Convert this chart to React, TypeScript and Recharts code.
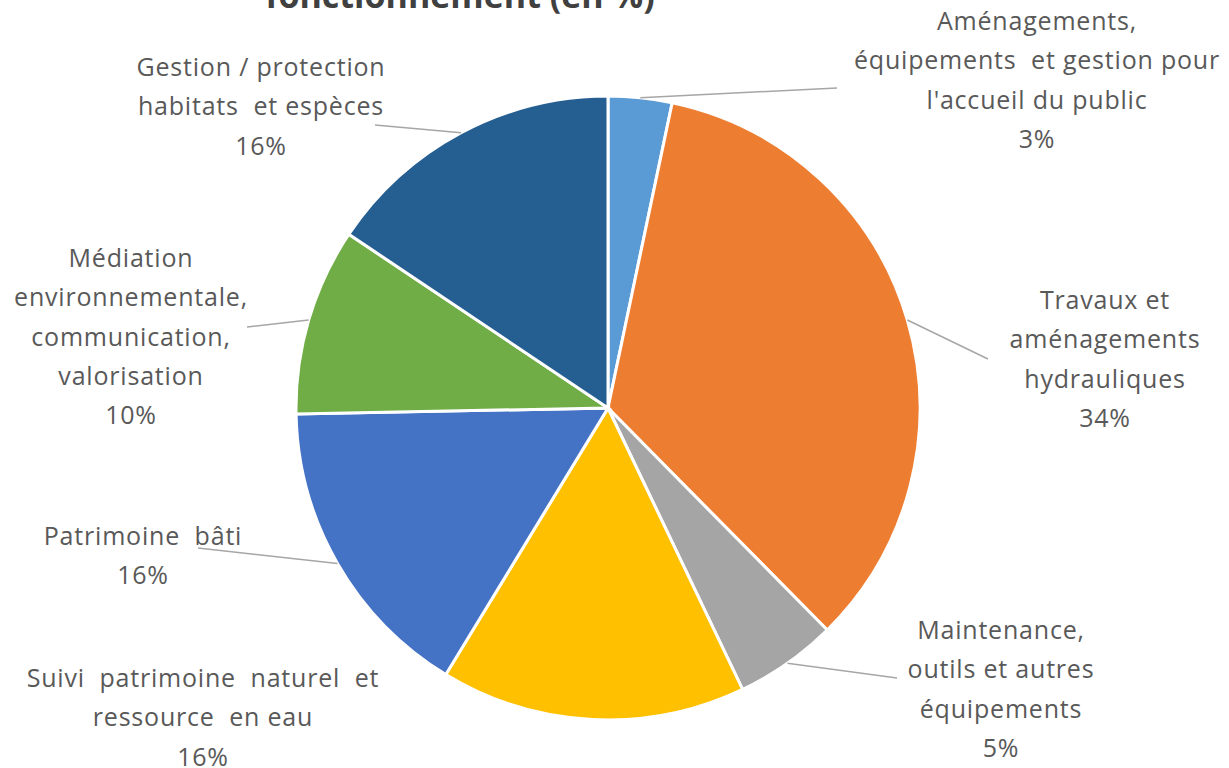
import React from 'react';
import { PieChart, Pie, Cell } from 'recharts';

// slices clockwise from 12 o'clock (percent)
const CATEGORIES = [
  ['Aménagements,', 'équipements  et gestion pour', "l'accueil du public"],
  ['Travaux et', 'aménagements', 'hydrauliques'],
  ['Maintenance,', 'outils et autres', 'équipements'],
  ['Suivi  patrimoine  naturel  et', 'ressource  en eau'],
  ['Patrimoine  bâti'],
  ['Médiation', 'environnementale,', 'communication,', 'valorisation'],
  ['Gestion / protection', 'habitats  et espèces'],
];
const VALUES = [3.3, 34.3, 5.3, 15.8, 16.0, 9.7, 15.6];
const COLORS = ['#5B9BD5', '#ED7D31', '#A5A5A5', '#FFC000', '#4472C4', '#70AD47', '#255E91'];

// label placement relative to the pie centre: text centre x, first baseline y, leader end
const LABEL_LAYOUT = [
  { dx: 429, dy: -378, end: [229, -320] },
  { dx: 497, dy: -99, end: [380, -49] },
  { dx: 393, dy: 231, end: [289, 270] },
  { dx: -405, dy: 279, end: null },
  { dx: -465, dy: 137, end: [-410, 140] },
  { dx: -477, dy: -141, end: [-361, -81] },
  { dx: -347, dy: -332, end: [-233, -283] },
];

const data = VALUES.map((v, i) => ({ name: CATEGORIES[i].join(' '), value: v, idx: i }));

const RAD = Math.PI / 180;
const LINE_H = 39.3;
const FONT = '"Open Sans", sans-serif';

const renderLabel = (props: any) => {
  const { cx, cy, midAngle, outerRadius, index, percent } = props;
  const lay = LABEL_LAYOUT[index];
  const lines = [...CATEGORIES[index], `${Math.round(percent * 100)}%`];
  const sx = cx + outerRadius * Math.cos(-midAngle * RAD);
  const sy = cy + outerRadius * Math.sin(-midAngle * RAD);
  return (
    <g key={`lbl-${index}`}>
      {lay.end && (
        <line x1={sx} y1={sy} x2={cx + lay.end[0]} y2={cy + lay.end[1]} stroke="#A6A6A6" strokeWidth={1.5} />
      )}
      <text
        x={cx + lay.dx}
        y={cy + lay.dy}
        textAnchor="middle"
        fill="#595959"
        fontSize={25}
        letterSpacing={0.8}
        fontFamily={FONT}
      >
        {lines.map((t, i) => (
          <tspan key={i} x={cx + lay.dx} dy={i === 0 ? 0 : LINE_H} style={{ whiteSpace: 'pre' }}>{t}</tspan>
        ))}
      </text>
    </g>
  );
};

const App: React.FC = () => {
  return (
    <div style={{ position: 'absolute', left: 0, top: 0, width: 1229, height: 768, background: '#fff', overflow: 'hidden' }}>
      <PieChart width={1229} height={768} margin={{ top: 0, right: 0, bottom: 0, left: 0 }}>
        <Pie
          data={data}
          dataKey="value"
          nameKey="name"
          cx={608}
          cy={408}
          outerRadius={312}
          startAngle={90}
          endAngle={-270}
          stroke="#fff"
          strokeWidth={3}
          label={renderLabel}
          labelLine={false}
          isAnimationActive={false}
        >
          {data.map((d, i) => (
            <Cell key={`cell-${i}`} fill={COLORS[i]} />
          ))}
        </Pie>
      </PieChart>
      <svg width={1229} height={40} style={{ position: 'absolute', left: 0, top: 0, pointerEvents: 'none' }}>
        <text x={460} y={8} textAnchor="middle" fill="#404040" fontSize={34} fontWeight="bold" fontFamily={FONT}>
          fonctionnement (en %)
        </text>
      </svg>
    </div>
  );
};

export default App;
